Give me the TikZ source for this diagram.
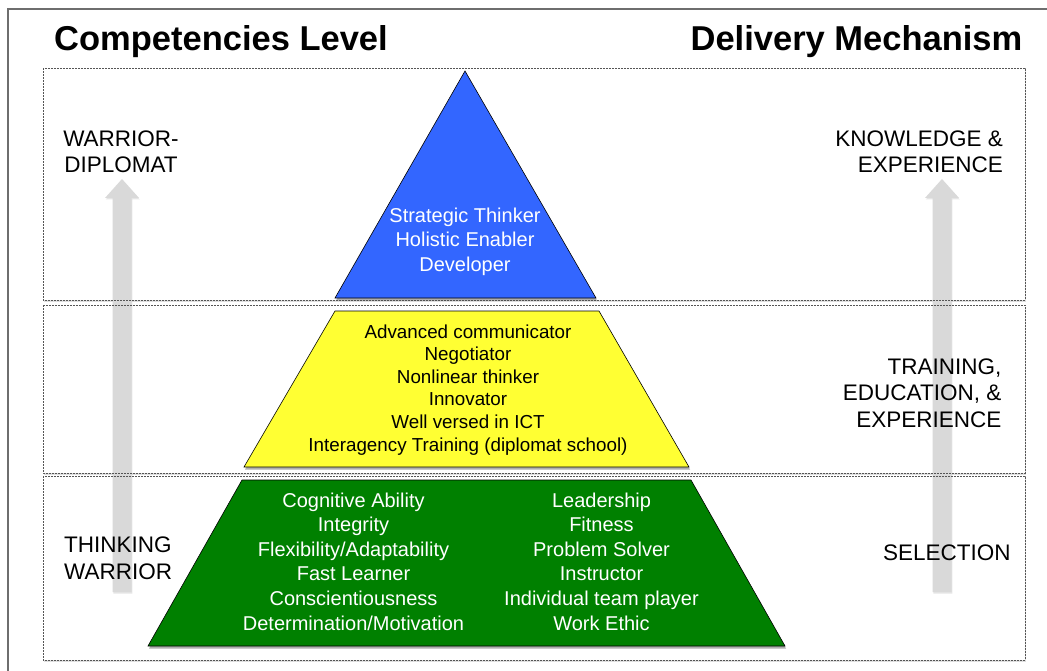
\documentclass[tikz,border=0pt]{standalone}
\usepackage{fontspec}
\setmainfont{Liberation Sans}
\usetikzlibrary{shadows}
\definecolor{pblue}{HTML}{3366FF}
\definecolor{pyellow}{HTML}{FFFF33}
\definecolor{pgreen}{HTML}{008000}
\definecolor{arrowgray}{HTML}{D9D9D9}
\definecolor{framegray}{HTML}{6E6E6E}
\definecolor{dashgray}{HTML}{555555}
\begin{document}
\begin{tikzpicture}[x=1pt,y=-1pt,
  levelfill/.style={fill=white, drop shadow={shadow xshift=0.8pt, shadow yshift=-1.5pt, opacity=0.25, fill=black!50}},
  levelbox/.style={draw=dashgray, dash pattern=on 2pt off 1pt, line width=0.8pt},
  tier/.style={draw=black, line width=0.6pt, drop shadow={shadow xshift=1pt, shadow yshift=-2.5pt, opacity=0.45, fill=black!70}},
  uparrow/.style={fill=arrowgray, drop shadow={shadow xshift=0.8pt, shadow yshift=-1.5pt, opacity=0.2, fill=black!50}},
  titletext/.style={font=\fontsize{34.5}{40}\selectfont\bfseries, inner sep=0pt},
  sidetext/.style={font=\fontsize{22.5}{26.3}\selectfont, inner sep=0pt, text=black},
  bluetext/.style={font=\fontsize{20}{24.5}\selectfont, inner sep=0pt, text=white, align=center},
  yellowtext/.style={font=\fontsize{18.8}{22.6}\selectfont, inner sep=0pt, text=black, align=center},
  greentext/.style={font=\fontsize{20}{24.6}\selectfont, inner sep=0pt, text=white, align=center}
]
\useasboundingbox (0,0) rectangle (1047,671);
\fill[white] (0,0) rectangle (1047,671);
% outer frame
\draw[framegray, line width=1.2pt] (8,9) rectangle (1060,690);
% level boxes (fills with shadow)
\path[levelfill] (43,68) rectangle (1025,300);
\path[levelfill] (43,305) rectangle (1025,473);
\path[levelfill] (43,476) rectangle (1025,660);
% gray up arrows
\path[uparrow] (122,179) -- (139,198) -- (131.5,198) -- (131.5,592) -- (112.5,592) -- (112.5,198) -- (105,198) -- cycle;
\path[uparrow] (942,179) -- (959,198) -- (951.5,198) -- (951.5,592) -- (932.5,592) -- (932.5,198) -- (925,198) -- cycle;
% level box borders
\draw[levelbox] (43,68) rectangle (1025,300);
\draw[levelbox] (43,305) rectangle (1025,473);
\draw[levelbox] (43,476) rectangle (1025,660);
% pyramid tiers
\path[tier, fill=pgreen] (242,480) -- (691,480) -- (785,646) -- (148,646) -- cycle;
\path[tier, fill=pyellow] (335,311) -- (599,311) -- (689,467) -- (244,467) -- cycle;
\path[tier, fill=pblue] (465,71) -- (596,298) -- (335,298) -- cycle;
% titles
\node[titletext, anchor=base] (ttl) at (221,50.5) {Competencies Level};
\node[titletext, anchor=base] (ttr) at (856.5,50.5) {Delivery Mechanism};
% side labels (base anchor = last line baseline)
\node[sidetext, align=center, anchor=base] (wd) at (121,173) {WARRIOR-\\DIPLOMAT};
\node[sidetext, align=right, anchor=base east] (ke) at (1003,173) {KNOWLEDGE \&\\EXPERIENCE};
\node[sidetext, align=right, anchor=base east] (tee) at (1001.5,427) {TRAINING,\\EDUCATION, \&\\EXPERIENCE};
\node[sidetext, align=left, anchor=base west] (tw) at (64,579) {THINKING\\WARRIOR};
\node[sidetext, anchor=base west] (sel) at (883,560) {SELECTION};
% tier texts
\node[bluetext, anchor=base] (bt) at (465,271) {Strategic Thinker\\Holistic Enabler\\Developer};
\node[yellowtext, anchor=base] (yt) at (468,451) {Advanced communicator\\Negotiator\\Nonlinear thinker\\Innovator\\Well versed in ICT\\Interagency Training (diplomat school)};
\node[greentext, anchor=base] (gl) at (353.5,630) {Cognitive Ability\\Integrity\\Flexibility/Adaptability\\Fast Learner\\Conscientiousness\\Determination/Motivation};
\node[greentext, anchor=base] (gr) at (601.5,630) {Leadership\\Fitness\\Problem Solver\\Instructor\\Individual team player\\Work Ethic};
\end{tikzpicture}
\end{document}
